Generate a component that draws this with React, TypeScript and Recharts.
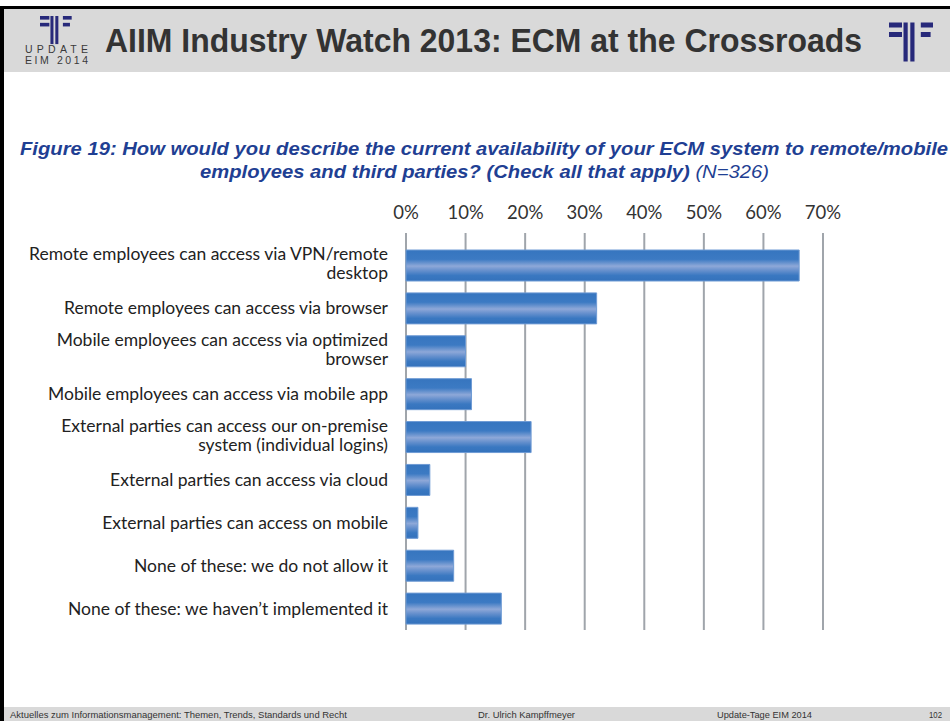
import React from 'react';
import { BarChart, Bar, XAxis, YAxis, CartesianGrid } from 'recharts';

// survey answers (Figure 19, N=326)
const categories = [
  'Remote employees can access via VPN/remote\ndesktop',
  'Remote employees can access via browser',
  'Mobile employees can access via optimized\nbrowser',
  'Mobile employees can  access via mobile app',
  'External parties can access our on-premise\nsystem (individual logins)',
  'External parties can access via cloud',
  'External parties can access on mobile',
  'None of these: we do not allow it',
  'None of these: we haven\u2019t implemented it',
];
const shares = [66, 32, 10, 11, 21, 4, 2, 8, 16];
const pctTicks = [0, 10, 20, 30, 40, 50, 60, 70];

const data = categories.map((name, i) => ({ name, value: shares[i] }));

const GRID = '#a0a5ab';
const NAVY = '#27297a';

const CategoryTick = (props: any) => {
  const { x, y, payload } = props;
  const lines = String(payload.value).split('\n');
  const lh = 19;
  const y0 = y - ((lines.length - 1) * lh) / 2 - (lines.length > 1 ? 2 : 0);
  return (
    <text x={x} y={y0} textAnchor="end" fontFamily="Lato" fontSize={17.5} fill="#222">
      {lines.map((l, i) => (
        <tspan key={i} x={x} y={y0 + i * lh} dy="0.35em">
          {l}
        </tspan>
      ))}
    </text>
  );
};

const Logo = ({ x, y, s }: { x: number; y: number; s: number }) => (
  <g transform={`translate(${x},${y}) scale(${s})`} fill={NAVY}>
    <rect x={0} y={0} width={13} height={5} />
    <rect x={0} y={9.5} width={13} height={5} />
    <rect x={14.5} y={0} width={4.2} height={39} />
    <rect x={21.3} y={0} width={4.2} height={39} />
    <rect x={31.8} y={0} width={12.2} height={5} />
    <rect x={31.8} y={9.5} width={9.8} height={5} />
  </g>
);

export default function App() {
  return (
    <div
      style={{
        position: 'absolute',
        left: 0,
        top: 0,
        width: 950,
        height: 721,
        background: '#fff',
        overflow: 'hidden',
      }}
    >
      <svg width={950} height={721} style={{ position: 'absolute', left: 0, top: 0 }}>
        <rect x={0} y={6} width={950} height={3} fill="#000" />
        <rect x={0} y={6} width={4} height={715} fill="#000" />
        <rect x={4} y={9} width={946} height={63} fill="#d9d9d9" />
        <rect x={4} y={707} width={946} height={14} fill="#d9d9d9" />

        <Logo x={40} y={16} s={0.72} />
        <text
          x={25}
          y={53}
          fontFamily="Liberation Sans"
          fontSize={10.5}
          fill="#3a3a3a"
          textLength={63}
          lengthAdjust="spacing"
        >
          UPDATE
        </text>
        <text
          x={25}
          y={64}
          fontFamily="Liberation Sans"
          fontSize={10.5}
          fill="#3a3a3a"
          textLength={63}
          lengthAdjust="spacing"
        >
          EIM 2014
        </text>
        <text
          x={105}
          y={52}
          fontFamily="Liberation Sans"
          fontWeight="bold"
          fontSize={34}
          fill="#333"
          textLength={757}
          lengthAdjust="spacingAndGlyphs"
        >
          AIIM Industry Watch 2013: ECM at the Crossroads
        </text>
        <Logo x={889} y={22.5} s={1} />

        <text
          x={20}
          y={155}
          fontFamily="Liberation Sans"
          fontWeight="bold"
          fontStyle="italic"
          fontSize={18.5}
          fill="#1f3f93"
          textLength={928}
          lengthAdjust="spacingAndGlyphs"
        >
          Figure 19: How would you describe the current availability of your ECM system to remote/mobile
        </text>
        <text
          x={200}
          y={178}
          fontFamily="Liberation Sans"
          fontStyle="italic"
          fontSize={18.5}
          fill="#1f3f93"
          textLength={569}
          lengthAdjust="spacingAndGlyphs"
        >
          <tspan fontWeight="bold">employees and third parties? (Check all that apply) </tspan>
          <tspan>(N=326)</tspan>
        </text>

        <g fontFamily="Liberation Sans" fontSize={9.5} fill="#333">
          <text x={10} y={718} textLength={337} lengthAdjust="spacingAndGlyphs">
            Aktuelles zum Informationsmanagement: Themen, Trends, Standards und Recht
          </text>
          <text x={478} y={718} textLength={97} lengthAdjust="spacingAndGlyphs">
            Dr. Ulrich Kampffmeyer
          </text>
          <text x={717} y={718} textLength={95} lengthAdjust="spacingAndGlyphs">
            Update-Tage EIM 2014
          </text>
          <text x={929} y={718} textLength={13} lengthAdjust="spacingAndGlyphs">
            102
          </text>
        </g>
      </svg>

      <div style={{ position: 'absolute', left: 0, top: 190 }}>
        <BarChart
          width={950}
          height={450}
          data={data}
          layout="vertical"
          margin={{ top: 24, right: 127, bottom: 10, left: 0 }}
          barSize={31}
        >
          <defs>
            <linearGradient id="barGrad" x1="0" y1="0" x2="0" y2="1">
              <stop offset="0%" stopColor="#3675bf" />
              <stop offset="30%" stopColor="#3c7ac3" />
              <stop offset="52%" stopColor="#8ea8d8" />
              <stop offset="66%" stopColor="#6690cd" />
              <stop offset="82%" stopColor="#3a78c1" />
              <stop offset="100%" stopColor="#3472bc" />
            </linearGradient>
          </defs>
          <CartesianGrid horizontal={false} stroke={GRID} strokeWidth={2} />
          <XAxis
            type="number"
            orientation="top"
            domain={[0, 70]}
            ticks={pctTicks}
            tickFormatter={(v) => `${v}%`}
            height={30}
            axisLine={false}
            tickLine={{ stroke: GRID, strokeWidth: 2 }}
            tickSize={11}
            tickMargin={14}
            tick={{ fontFamily: 'Lato', fontSize: 18.5, fill: '#333' }}
            interval={0}
          />
          <YAxis
            type="category"
            dataKey="name"
            width={406}
            axisLine={false}
            tickLine={false}
            tickSize={0}
            tickMargin={18}
            tick={<CategoryTick />}
            interval={0}
          />
          <Bar dataKey="value" fill="url(#barGrad)" stroke="#6f9bd4" strokeWidth={1} isAnimationActive={false} />
        </BarChart>
      </div>
    </div>
  );
}
